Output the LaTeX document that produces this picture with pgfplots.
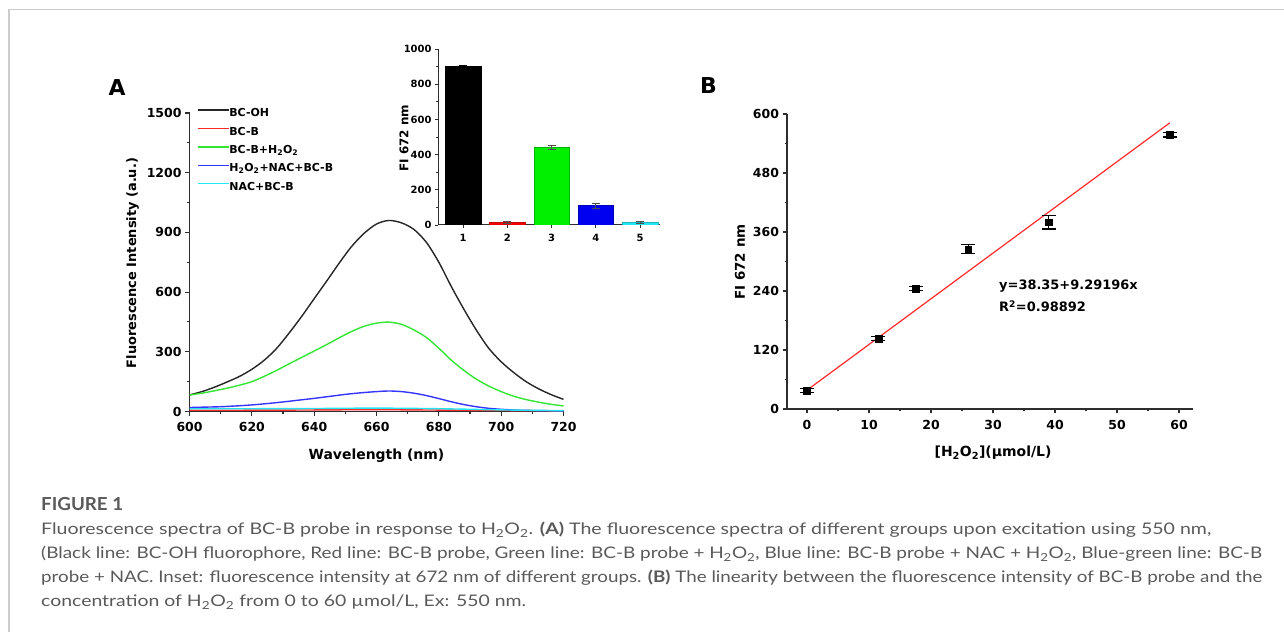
\documentclass[border=0pt]{standalone}
\usepackage{fontspec}
\setmainfont{DejaVu Sans}
\newfontfamily\capfont{Lato}
\usepackage{graphicx}
\usepackage{pgfplots}
\pgfplotsset{compat=1.18}

\definecolor{axgray}{HTML}{2E2E2E}
\definecolor{cBlack}{HTML}{262626}
\definecolor{cRed}{HTML}{FF2A2A}
\definecolor{cGreen}{HTML}{33E633}
\definecolor{cBlue}{HTML}{3535FF}
\definecolor{cCyan}{HTML}{22E6F2}
\definecolor{capgray}{HTML}{5A5A5A}
\definecolor{framegray}{HTML}{CCCCCC}

% Origin-like look: left/bottom spines, ticks pointing out
\pgfplotsset{
  originstyle/.style={
    scale only axis,
    axis x line*=bottom, axis y line*=left,
    axis line style={line width=1.3bp, draw=axgray, -},
    every tick/.style={line width=1.1bp, draw=axgray},
    tick align=outside,
    major tick length=4.5bp, minor tick length=2.5bp,
    tick label style={font=\bfseries\fontsize{12.5}{13}\selectfont},
    xticklabel style={yshift=-3bp},
    /pgf/number format/assume math mode=true,
    /pgf/number format/1000 sep={},
  },
  spec/.style={line width=1.4bp, smooth},
}

\begin{document}
\begin{tikzpicture}
\useasboundingbox (0,0) rectangle (1284bp,632bp);
\fill[white] (0,0) rectangle (1284bp,632bp);
\draw[line width=1.5bp, framegray] (9bp,0bp) -- (9bp,622.3bp) -- (1284bp,622.3bp);

% ---------- panel A, spectra ----------
\begin{axis}[originstyle,
  at={(189.5bp,220.5bp)}, anchor=south west,
  width=374bp, height=298.5bp,
  xmin=600, xmax=720, ymin=0, ymax=1500,
  xtick={600,620,...,720}, ytick={0,300,...,1500},
  minor x tick num=1, minor y tick num=1,
  legend style={at={(0.020,1.0144)}, anchor=north west, draw=none, fill=none,
    inner sep=0bp, outer sep=0bp, row sep=8.2bp,
    font=\bfseries\fontsize{11}{12}\selectfont,
    nodes={inner sep=0bp, text height=8bp, text depth=2.2bp},
    /tikz/every even column/.append style={column sep=4bp}},
  legend image code/.code={\draw[#1] (0bp,3.6bp) -- (31bp,3.6bp);},
  legend cell align=left,
]
\addplot[spec, cBlack] coordinates {
 (600,83) (604,100) (608,122) (612,148) (616,176) (620,212) (624,258) (628,318)
 (632,395) (636,478) (640,567) (644,655) (648,745) (652,829) (656,895) (660,942)
 (664,960) (668,948) (672,915) (676,850) (680,750) (684,628) (688,515) (692,410)
 (696,318) (700,250) (704,196) (708,150) (712,114) (716,85) (720,61)};
\addplot[spec, cRed] coordinates {
 (600,6) (630,7) (660,9) (690,6) (720,3)};
\addplot[spec, cGreen] coordinates {
 (600,83) (604,92) (608,104) (612,117) (616,132) (620,150) (624,177) (628,207)
 (632,240) (636,272) (640,304) (644,336) (648,370) (652,402) (656,428) (660,444)
 (664,449) (668,438) (672,410) (676,372) (680,318) (684,258) (688,207) (692,163)
 (696,128) (700,100) (704,77) (708,60) (712,47) (716,36) (720,28)};
\addplot[spec, cBlue] coordinates {
 (600,20) (605,22) (610,24) (615,28) (620,33) (625,40) (630,48) (635,57) (640,66)
 (645,76) (650,86) (655,94) (660,100) (664,103) (668,100) (672,92) (676,80) (680,65)
 (684,49) (688,35) (692,24) (696,16) (700,11) (705,7) (710,5) (715,4) (720,3)};
\addplot[spec, cCyan] coordinates {
 (600,14) (620,14) (640,15) (660,17) (680,14) (700,8) (720,4)};
\legend{BC-OH, BC-B, BC-B+H\textsubscript{2}O\textsubscript{2},
  H\textsubscript{2}O\textsubscript{2}+NAC+BC-B, NAC+BC-B}
\end{axis}

% ---------- inset bars ----------
\begin{axis}[originstyle,
  at={(438bp,407bp)}, anchor=south west,
  width=222bp, height=176bp,
  xmin=0.435, xmax=5.45, ymin=0, ymax=1000,
  xtick={1,2,3,4,5}, ytick={0,200,...,1000}, minor y tick num=1,
  major tick length=3bp, minor tick length=1.8bp,
  axis line style={line width=1bp},
  tick label style={font=\bfseries\fontsize{10}{11}\selectfont},
  xticklabel style={yshift=0bp},
  every tick/.style={line width=0.8bp, draw=axgray},
]
\addplot[ybar, bar width=0.8, bar shift=0pt, fill=black, draw=black,
  error bars/.cd, y dir=both, y explicit, error bar style={line width=0.8bp, black},
  error mark options={rotate=90, mark size=4bp, line width=0.8bp}]
  coordinates {(1,900) +- (0,4)};
\addplot[ybar, bar width=0.8, bar shift=0pt, fill=red!95!black, draw=red!80!black,
  error bars/.cd, y dir=both, y explicit, error bar style={line width=0.8bp, black!70},
  error mark options={rotate=90, mark size=4bp, line width=0.8bp, black!70}]
  coordinates {(2,15) +- (0,4)};
\addplot[ybar, bar width=0.8, bar shift=0pt, fill=green!94!black, draw=green!70!black,
  error bars/.cd, y dir=both, y explicit, error bar style={line width=0.8bp, black!70},
  error mark options={rotate=90, mark size=4bp, line width=0.8bp, black!70}]
  coordinates {(3,440) +- (0,10)};
\addplot[ybar, bar width=0.8, bar shift=0pt, fill=blue!94!black, draw=blue!70!black,
  error bars/.cd, y dir=both, y explicit, error bar style={line width=0.8bp, black!70},
  error mark options={rotate=90, mark size=4bp, line width=0.8bp, black!70}]
  coordinates {(4,110) +- (0,13)};
\addplot[ybar, bar width=0.8, bar shift=0pt, fill=cCyan, draw=cCyan!80!black,
  error bars/.cd, y dir=both, y explicit, error bar style={line width=0.8bp, black!70},
  error mark options={rotate=90, mark size=4bp, line width=0.8bp, black!70}]
  coordinates {(5,15) +- (0,4)};
\end{axis}

% ---------- panel B, calibration ----------
\begin{axis}[originstyle,
  at={(787bp,223bp)}, anchor=south west,
  width=406bp, height=295bp,
  xmin=-3.23, xmax=62.26, ymin=0, ymax=600,
  xtick={0,10,...,60}, ytick={0,120,...,600},
  minor x tick num=1, minor y tick num=1,
]
\addplot[cRed, line width=1.2bp] coordinates {(0,38.35) (58.5,581.9)};
\addplot[only marks, mark=square*, mark size=3.4bp, black,
  error bars/.cd, y dir=both, y explicit, error bar style={line width=1.3bp, black},
  error mark options={rotate=90, mark size=7bp, line width=1.3bp}]
  coordinates {
  (0,37) +- (0,4)
  (11.5,143) +- (0,4)
  (17.5,245) +- (0,4)
  (26,325) +- (0,9)
  (39,380) +- (0,14)
  (58.5,558) +- (0,5)};
\end{axis}

% axis titles and panel letters
\node[font=\bfseries\fontsize{14}{16}\selectfont] at (376.5bp,176bp) {Wavelength (nm)};
\node[font=\bfseries\fontsize{13}{15}\selectfont, rotate=90] at (132.5bp,369bp) {Fluorescence Intensity (a.u.)};
\node[font=\bfseries\fontsize{12}{14}\selectfont, rotate=90] at (404bp,494bp) {FI 672 nm};
\node[font=\bfseries\fontsize{13.5}{15}\selectfont, rotate=90] at (740bp,370bp) {FI 672 nm};
\node[font=\bfseries\fontsize{14}{16}\selectfont] at (993bp,179bp) {[H\textsubscript{2}O\textsubscript{2}](µmol/L)};
\node[font=\bfseries\fontsize{13}{15}\selectfont, anchor=west, inner sep=0] at (999bp,346bp) {y=38.35+9.29196x};
\node[font=\bfseries\fontsize{13}{15}\selectfont, anchor=west, inner sep=0] at (999bp,326bp) {R\textsuperscript{2}=0.98892};
\node[font=\bfseries\fontsize{22}{24}\selectfont] at (117bp,544bp) {A};
\node[font=\bfseries\fontsize{22}{24}\selectfont] at (708.5bp,546bp) {B};

% caption
\begin{scope}[every node/.style={anchor=base west, inner sep=0, text=capgray}]
\node at (41bp,121bp) {\resizebox{82bp}{\height}{\capfont\bfseries\fontsize{18}{20}\selectfont FIGURE 1}};
\node at (41bp,97bp) {\resizebox{1170bp}{\height}{\capfont\fontsize{16}{20}\selectfont Fluorescence spectra of BC-B probe in response to H\textsubscript{2}O\textsubscript{2}. \textbf{(A)} The fluorescence spectra of different groups upon excitation using 550 nm,}};
\node at (41bp,73bp) {\resizebox{1221bp}{\height}{\capfont\fontsize{16}{20}\selectfont (Black line: BC-OH fluorophore, Red line: BC-B probe, Green line: BC-B probe + H\textsubscript{2}O\textsubscript{2}, Blue line: BC-B probe + NAC + H\textsubscript{2}O\textsubscript{2}, Blue-green line: BC-B}};
\node at (41bp,49bp) {\resizebox{1221bp}{\height}{\capfont\fontsize{16}{20}\selectfont probe + NAC. Inset: fluorescence intensity at 672 nm of different groups. \textbf{(B)} The linearity between the fluorescence intensity of BC-B probe and the}};
\node at (41bp,25bp) {\resizebox{485bp}{\height}{\capfont\fontsize{16}{20}\selectfont concentration of H\textsubscript{2}O\textsubscript{2} from 0 to 60 µmol/L, Ex: 550 nm.}};
\end{scope}
\end{tikzpicture}
\end{document}
